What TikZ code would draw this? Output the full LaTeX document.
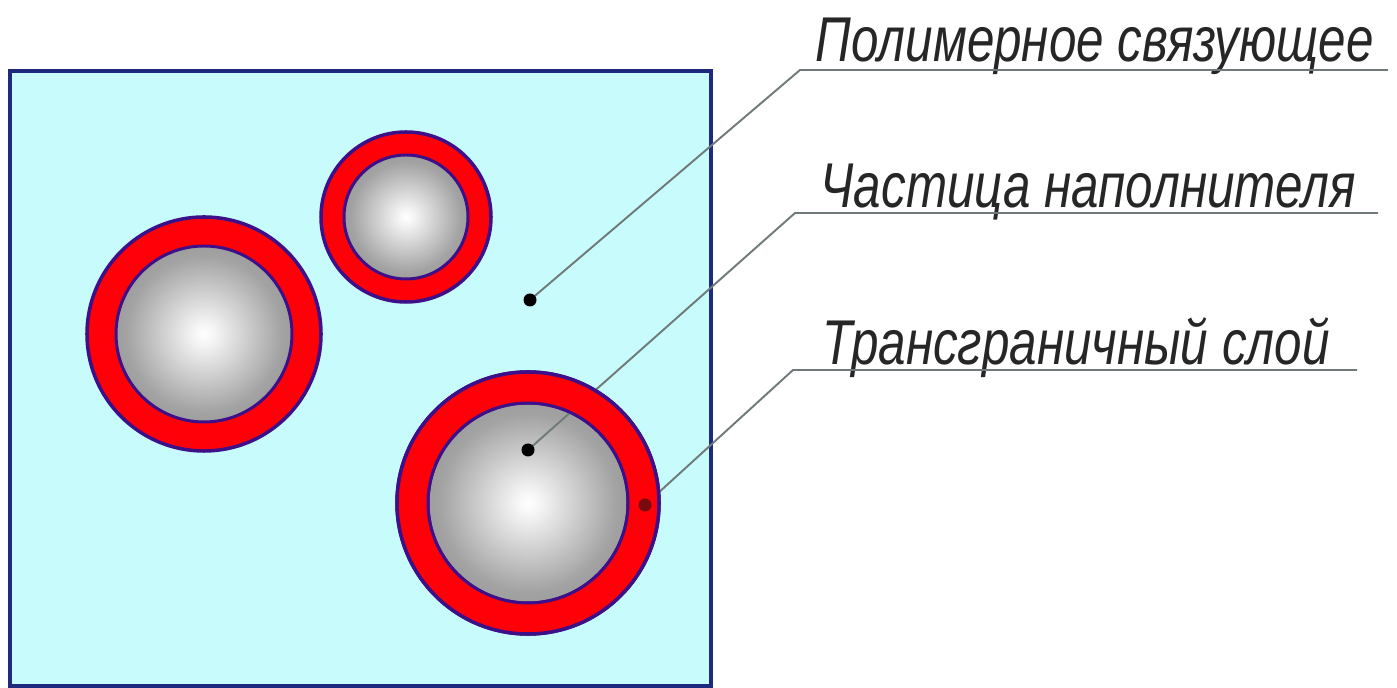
\documentclass[tikz,border=0pt]{standalone}
\usepackage{fontspec}
\setmainfont{Liberation Sans}
\newfontfamily\gostfont[FakeStretch=0.78]{Liberation Sans}
\usetikzlibrary{positioning}

\definecolor{matrixfill}{HTML}{C8FCFC}
\definecolor{framecol}{HTML}{1E2A7E}
\definecolor{ringred}{HTML}{FF0008}
\definecolor{ringedge}{HTML}{3D0F88}
\definecolor{leadcol}{HTML}{707A7A}
\definecolor{layerdot}{HTML}{7A0A10}

\pgfdeclareradialshading{sphere}{\pgfpoint{0bp}{0bp}}{%
  color(0bp)=(white); color(3bp)=(white!96!black); color(22bp)=(black!36);
  color(50bp)=(black!56)}

\tikzset{
  binder/.style={fill=matrixfill, draw=framecol, line width=0.9pt},
  ring/.style={fill=ringred, draw=ringedge, line width=1pt},
  core/.style={shading=sphere, draw=ringedge, line width=0.85pt},
  leader/.style={leadcol, line width=0.55pt},
  dot/.style={circle, fill=black, inner sep=0pt, minimum size=0.13cm},
  tag/.style={font=\gostfont\itshape\fontsize{18}{20}\selectfont, text=black!85,
    inner sep=0pt, anchor=base west}
}

\begin{document}
\begin{tikzpicture}[x=0.01cm, y=0.01cm]
  \useasboundingbox (0,0) rectangle (1397,688);

  % matrix
  \draw[binder] (10,2) rectangle (711,617);

  % filler particles with boundary layer
  \foreach \cx/\cy/\ro/\ri in {204/354/117/88, 406/471/85/62, 528/185/131/100}{
    \filldraw[ring] (\cx,\cy) circle (\ro);
    \shadedraw[core] (\cx,\cy) circle (\ri);
  }

  % labels
  \node[tag] (tbinder) at (815,626) {Полимерное связующее};
  \node[tag] (tfiller) at (820,480) {Частица наполнителя};
  \node[tag] (tlayer) at (822,323) {Трансграничный слой};

  % leader lines
  \coordinate (pbinder) at (530,388);
  \coordinate (pfiller) at (528,238);
  \coordinate (player) at (645,183);
  \coordinate (kbinder) at (800,618);
  \coordinate (kfiller) at (795,475);
  \coordinate (klayer) at (793,318);
  \coordinate (ebinder) at (1388,618);
  \coordinate (efiller) at (1378,475);
  \coordinate (elayer) at (1357,318);
  \draw[leader] (pbinder) -- (kbinder) -- (ebinder);
  \draw[leader] (pfiller) -- (kfiller) -- (efiller);
  \draw[leader] (player) -- (klayer) -- (elayer);

  % layer of the big particle over the leaders
  \fill[ringred, even odd rule] (528,185) circle (131) circle (100);
  \draw[ringedge, line width=1pt] (528,185) circle (131);
  \draw[ringedge, line width=0.85pt] (528,185) circle (100);

  % points
  \node[dot] (dbinder) at (pbinder) {};
  \node[dot] (dfiller) at (pfiller) {};
  \node[dot, fill=layerdot] (dlayer) at (player) {};
\end{tikzpicture}
\end{document}
